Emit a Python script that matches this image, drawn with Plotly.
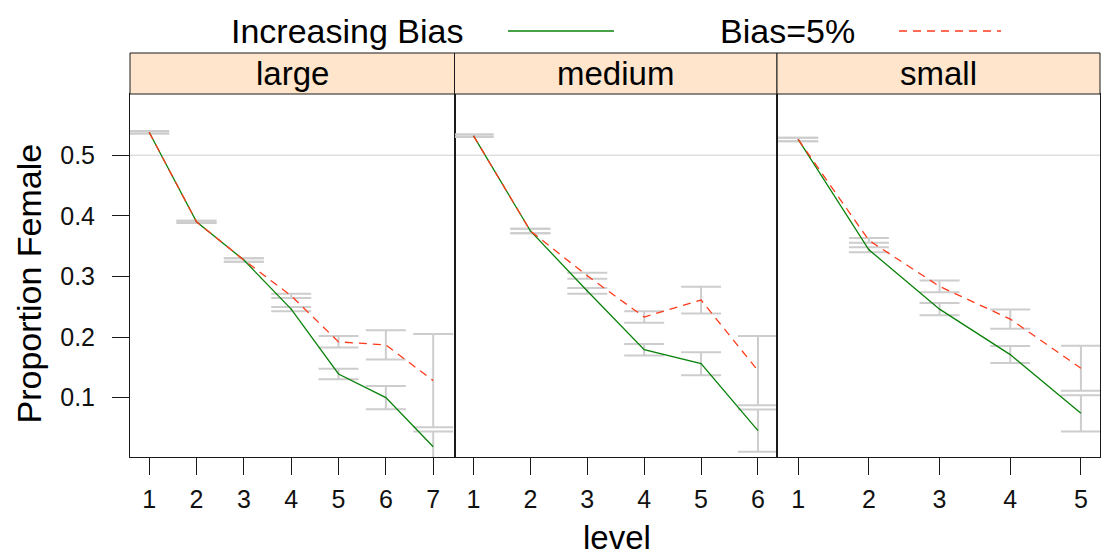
import plotly.graph_objects as go

# ---------------- data ----------------
panels = ["large", "medium", "small"]

large_levels = [1, 2, 3, 4, 5, 6, 7]
large_inc = [0.538, 0.390, 0.327, 0.246, 0.139, 0.100, 0.019]
large_inc_err = [0.002, 0.002, 0.003, 0.0035, 0.0085, 0.019, 0.025]
large_b5 = [0.538, 0.390, 0.327, 0.268, 0.192, 0.187, 0.128]
large_b5_err = [0.002, 0.002, 0.003, 0.0035, 0.0095, 0.024, 0.077]

medium_levels = [1, 2, 3, 4, 5, 6]
medium_inc = [0.532, 0.375, 0.276, 0.179, 0.156, 0.0455]
medium_inc_err = [0.002, 0.0036, 0.0047, 0.0096, 0.019, 0.035]
medium_b5 = [0.532, 0.375, 0.301, 0.233, 0.261, 0.1446]
medium_b5_err = [0.002, 0.0036, 0.005, 0.0096, 0.022, 0.057]

small_levels = [1, 2, 3, 4, 5]
small_inc = [0.526, 0.344, 0.246, 0.171, 0.074]
small_inc_err = [0.003, 0.004, 0.010, 0.014, 0.030]
small_b5 = [0.526, 0.3595, 0.2835, 0.2295, 0.1485]
small_b5_err = [0.003, 0.004, 0.0096, 0.016, 0.037]

series_names = ["Increasing Bias", "Bias=5%"]
y_tick_vals = [0.1, 0.2, 0.3, 0.4, 0.5]
y_tick_text = ["0.1", "0.2", "0.3", "0.4", "0.5"]

# ---------------- layout helpers ----------------
W, H = 1102, 558
L, R, T, B = 130, 1100, 94, 457
FONT = "Liberation Sans, Arial, Helvetica, sans-serif"
GREEN = "#0a820a"
RED = "#ff3a1a"
ERRC = "#cdcdcd"


def px(x):
    return (x - L) / (R - L)


def py(y):
    return (B - y) / (B - T)


panel_px = [(130, 454.5), (454.5, 777), (777, 1100)]
x_ranges = [[0.595, 7.45], [0.665, 6.335], [0.70, 5.27]]
y_range = [0.002, 0.601]

data = [
    (large_levels, large_inc, large_inc_err, large_b5, large_b5_err),
    (medium_levels, medium_inc, medium_inc_err, medium_b5, medium_b5_err),
    (small_levels, small_inc, small_inc_err, small_b5, small_b5_err),
]

fig = go.Figure()

for i, (lv, inc, inc_e, b5, b5_e) in enumerate(data):
    xa = "x" if i == 0 else f"x{i+1}"
    ya = "y" if i == 0 else f"y{i+1}"
    # error bars first (drawn underneath)
    for vals, errs in ((inc, inc_e), (b5, b5_e)):
        fig.add_trace(go.Scatter(
            x=lv, y=vals, mode="markers", xaxis=xa, yaxis=ya,
            marker=dict(size=1, color="rgba(0,0,0,0)"),
            error_y=dict(type="data", array=errs, visible=True,
                         color=ERRC, thickness=2, width=20),
            showlegend=False, hoverinfo="skip"))
    fig.add_trace(go.Scatter(
        x=lv, y=inc, mode="lines", xaxis=xa, yaxis=ya,
        line=dict(color=GREEN, width=1.3), name=series_names[0],
        showlegend=False))
    fig.add_trace(go.Scatter(
        x=lv, y=b5, mode="lines", xaxis=xa, yaxis=ya,
        line=dict(color=RED, width=1.3, dash="8px,6px"), name=series_names[1],
        showlegend=False))

axis_common = dict(showline=True, mirror=True, linecolor="#1a1a1a", linewidth=1,
                   showgrid=False, zeroline=False)

layout = dict(
    width=W, height=H,
    margin=dict(l=L, r=W - R, t=T, b=H - B, pad=0),
    paper_bgcolor="white", plot_bgcolor="white",
    font=dict(family=FONT, color="black"),
    showlegend=False,
)

for i in range(3):
    sfx = "" if i == 0 else str(i + 1)
    lv = data[i][0]
    layout["xaxis" + sfx] = dict(
        **axis_common,
        domain=[px(panel_px[i][0]), px(panel_px[i][1])],
        range=x_ranges[i], anchor="y" + sfx,
        ticks="outside", ticklen=17, tickwidth=1, tickcolor="#1a1a1a",
        tickmode="array", tickvals=lv, ticktext=[str(v) for v in lv],
        tickfont=dict(size=25, family=FONT, color="#111"),
        ticklabelstandoff=3,
    )
    ycfg = dict(**axis_common, domain=[0, 1], range=y_range, anchor="x" + sfx)
    if i == 0:
        ycfg.update(ticks="outside", ticklen=17, tickwidth=1, tickcolor="#1a1a1a",
                    tickmode="array", tickvals=y_tick_vals, ticktext=y_tick_text,
                    tickfont=dict(size=25, family=FONT, color="#111"),
                    ticklabelstandoff=12)
    else:
        ycfg.update(showticklabels=False, ticks="")
    layout["yaxis" + sfx] = ycfg

fig.update_layout(**layout)

shapes = []
annotations = []
for i, name in enumerate(panels):
    sfx = "" if i == 0 else str(i + 1)
    # reference line at 0.5
    shapes.append(dict(type="line", xref=f"x{sfx} domain", x0=0, x1=1,
                       yref="y" + sfx, y0=0.5, y1=0.5,
                       line=dict(color="#d0d0d0", width=1), layer="below"))
    # strip
    shapes.append(dict(type="rect", xref="paper", yref="paper",
                       x0=px(panel_px[i][0]), x1=px(panel_px[i][1]),
                       y0=py(94), y1=py(53), fillcolor="#ffe5cc",
                       line=dict(color="#1a1a1a", width=1)))
    annotations.append(dict(text=name, xref="paper", yref="paper",
                            x=px((panel_px[i][0] + panel_px[i][1]) / 2), y=py(73.5),
                            xanchor="center", yanchor="middle", showarrow=False,
                            font=dict(size=33, family=FONT, color="black")))

# legend keys
shapes.append(dict(type="line", xref="paper", yref="paper",
                   x0=px(508), x1=px(614), y0=py(31), y1=py(31),
                   line=dict(color=GREEN, width=1.5)))
shapes.append(dict(type="line", xref="paper", yref="paper",
                   x0=px(899), x1=px(1001), y0=py(31), y1=py(31),
                   line=dict(color=RED, width=1.5, dash="8px,6px")))
annotations.append(dict(text=series_names[0], xref="paper", yref="paper",
                        x=px(465), y=py(31), xanchor="right", yanchor="middle",
                        showarrow=False, font=dict(size=34, family=FONT, color="black")))
annotations.append(dict(text=series_names[1], xref="paper", yref="paper",
                        x=px(857), y=py(31), xanchor="right", yanchor="middle",
                        showarrow=False, font=dict(size=34, family=FONT, color="black")))

# axis titles
annotations.append(dict(text="Proportion Female", xref="paper", yref="paper",
                        x=px(28), y=py(283.5), xanchor="center", yanchor="middle",
                        textangle=-90, showarrow=False,
                        font=dict(size=34, family=FONT, color="black")))
annotations.append(dict(text="level", xref="paper", yref="paper",
                        x=px(617), y=py(537), xanchor="center", yanchor="middle",
                        showarrow=False, borderpad=0,
                        font=dict(size=33, family=FONT, color="black")))

fig.update_layout(shapes=shapes, annotations=annotations)
fig.write_html("out.html",
               config={"displayModeBar": False},
               post_script="document.body.style.margin='0';document.body.style.overflow='hidden';")
